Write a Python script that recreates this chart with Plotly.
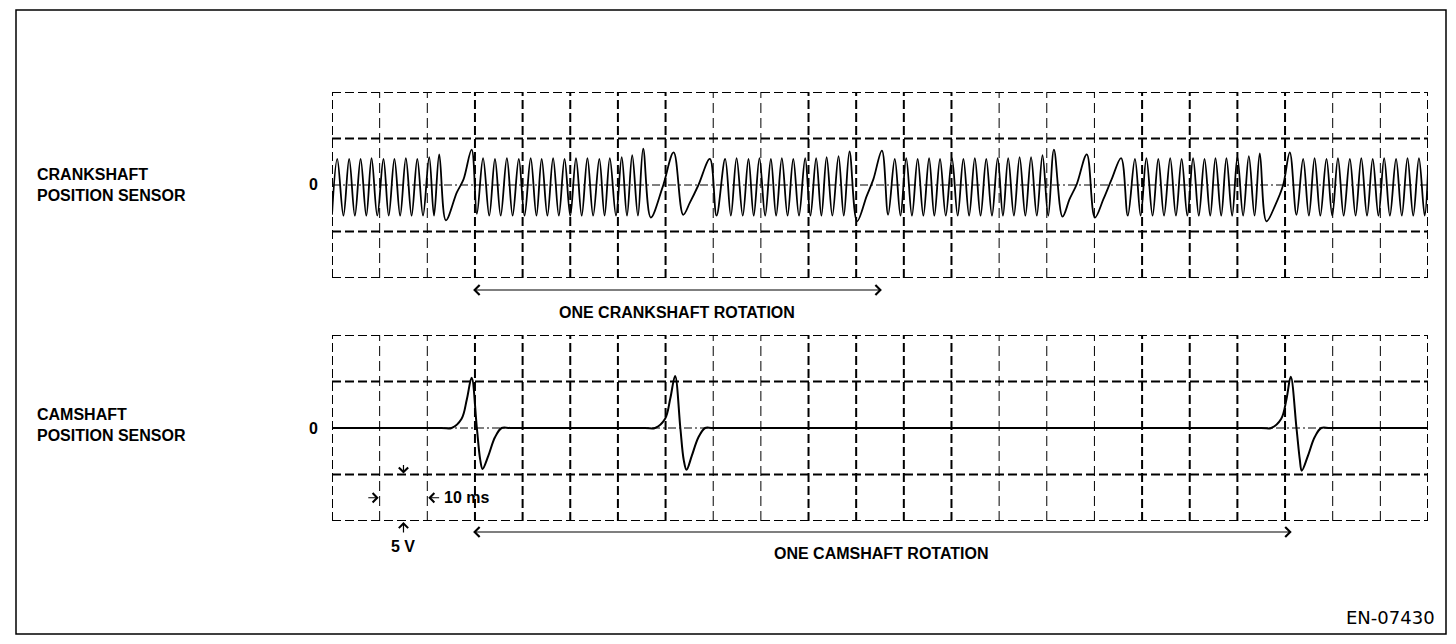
import plotly.graph_objects as go

# Scope traces: time in ms, signal in V
# (one grid division = 10 ms across, 5 V up)
crank_t = [
    0.0, 1.1, 2.4, 3.6, 4.8, 6.0, 7.2, 8.3, 9.5, 10.8, 11.9, 13.1, 14.3, 15.5, 16.7, 17.9, 19.1, 20.4, 21.4, 22.5,
    23.9, 26.2, 27.6, 29.3, 30.4,
    31.7, 33.0, 34.2, 35.4, 36.7, 37.9, 39.2, 40.4, 41.7, 42.9, 44.0, 45.2, 46.4, 47.6, 48.8, 50.0, 51.2, 52.4,
    53.6, 54.8, 56.1, 57.2, 58.3, 59.6, 60.8, 61.9, 63.0, 64.2, 65.3,
    66.9, 69.4, 71.7, 73.7, 75.1, 76.9, 79.3, 80.7,
    82.5, 83.7, 84.9, 86.2, 87.4, 88.5, 89.7, 90.9, 92.1, 93.2, 94.4, 95.6, 96.8, 98.0, 99.3, 100.4, 101.6, 102.7,
    103.8, 105.0, 106.3, 107.4, 108.6,
    110.2, 112.2, 113.6, 115.4, 116.7,
    118.1, 119.3, 120.5, 121.7, 122.9, 124.1, 125.3, 126.4, 127.6, 128.8, 130.1, 131.3, 132.5, 133.7, 134.9, 136.1,
    137.3, 138.5, 139.7, 140.8, 141.9, 143.1, 144.3, 145.5, 146.7, 147.9, 149.1, 150.3, 151.5,
    153.3, 154.8, 156.3, 158.4, 160.1, 161.9, 163.6, 165.6, 167.0,
    168.5, 169.7, 170.9, 172.2, 173.4, 174.6, 175.9, 177.1, 178.3, 179.5, 180.7, 181.9, 183.1, 184.3, 185.4, 186.6,
    187.7, 188.9, 190.0, 191.2, 192.4, 193.6, 194.7,
    196.1, 198.0, 199.6, 201.0, 202.4,
    203.8, 205.0, 206.2, 207.4, 208.7, 209.9, 211.1, 212.3, 213.6, 214.8, 216.0, 217.2, 218.4, 219.6, 220.8, 222.0,
    223.3, 224.5, 225.7, 226.9, 228.1, 229.3, 230.0,
]
crank_v = [
    -3.2, 2.8, -3.3, 2.8, -3.3, 2.8, -3.3, 2.9, -3.3, 2.8, -3.3, 2.8, -3.3, 2.9, -3.3, 2.8, -3.3, 3.0, -3.3, 3.3,
    -3.8, -0.8, 0.6, 3.8, -3.1,
    2.9, -3.3, 2.8, -3.3, 2.9, -3.3, 2.8, -3.3, 2.9, -3.3, 2.8, -3.3, 2.9, -3.3, 2.8, -3.3, 2.9, -3.3,
    2.9, -3.3, 2.8, -3.3, 2.9, -3.3, 3.0, -3.3, 3.2, -3.3, 3.9,
    -3.5, -0.2, 3.5, -3.2, -1.9, 0.0, 2.8, -3.3,
    2.8, -3.3, 2.9, -3.3, 2.8, -3.3, 2.9, -3.3, 2.8, -3.3, 2.9, -3.3, 2.8, -3.3, 2.9, -3.3, 2.9, -3.3,
    3.0, -3.3, 3.1, -3.3, 3.6,
    -3.9, -1.2, 0.6, 3.7, -3.2,
    2.8, -3.3, 2.9, -3.3, 2.8, -3.3, 2.9, -3.3, 2.8, -3.3, 2.9, -3.3, 2.8, -3.3, 2.9, -3.3,
    2.8, -3.3, 2.9, -3.3, 2.9, -3.3, 3.0, -3.3, 3.0, -3.3, 3.2, -3.3, 3.8,
    -3.4, -1.5, 0.1, 3.3, -3.5, -1.5, 0.6, 2.9, -3.3,
    2.8, -3.3, 2.9, -3.3, 2.8, -3.3, 2.9, -3.3, 2.8, -3.3, 2.9, -3.3, 2.8, -3.3, 2.9, -3.3,
    2.9, -3.3, 3.0, -3.3, 3.1, -3.3, 3.4,
    -3.9, -2.1, 0.0, 3.5, -3.2,
    2.8, -3.3, 2.9, -3.3, 2.8, -3.3, 2.9, -3.3, 2.8, -3.3, 2.9, -3.3, 2.8, -3.3, 2.9, -3.3,
    2.8, -3.3, 2.9, -3.3, 2.9, -3.3, 1.5,
]

cam_t = [
    0.0, 23.0, 25.1, 27.2, 28.3, 29.3, 30.4, 31.1, 31.6, 32.8, 34.2, 35.6, 37.5,
    65.7, 67.8, 69.9, 71.0, 72.0, 73.1, 73.8, 74.4, 75.5, 76.9, 78.3, 80.0,
    195.0, 197.1, 199.2, 200.3, 201.2, 202.4, 203.1, 203.5, 204.8, 206.2, 207.6, 209.5, 230.0,
]
cam_v = [
    0.0, 0.0, 0.0, 1.0, 3.1, 5.4, 0.0, -3.4, -4.4, -3.0, -1.0, 0.0, 0.0,
    0.0, 0.0, 1.0, 3.2, 5.6, 0.0, -3.4, -4.5, -3.0, -1.0, 0.0, 0.0,
    0.0, 0.0, 1.0, 3.1, 5.5, 0.0, -3.4, -4.6, -3.0, -1.0, 0.0, 0.0, 0.0,
]

crank_rotation = [29.3, 115.4]   # ms, ends of the "one crankshaft rotation" arrow
cam_rotation = [29.3, 201.4]     # ms, ends of the "one camshaft rotation" arrow

time_div = 10
volt_div = 5
n_cols = 23
n_rows = 2      # each side of zero
heavy_cols = {0, 3, 4, 5, 6, 7, 10, 11, 12, 13, 17, 18, 19, 20, 23}

W, H = 1456, 644


def px(x):
    return x / W


def py(y):
    return 1 - y / H


FONT = "Liberation Sans, Arial, sans-serif"
t_max = n_cols * time_div
v_max = n_rows * volt_div

fig = go.Figure()
fig.add_trace(go.Scatter(x=crank_t, y=crank_v, mode="lines", xaxis="x", yaxis="y",
                         line=dict(color="black", width=1.8, shape="spline", smoothing=1.0),
                         hoverinfo="skip", showlegend=False))
fig.add_trace(go.Scatter(x=cam_t, y=cam_v, mode="lines", xaxis="x2", yaxis="y2",
                         line=dict(color="black", width=2.0, shape="spline", smoothing=1.0),
                         hoverinfo="skip", showlegend=False))

# scope graticules
shapes = []
for xr, yr in (("x", "y"), ("x2", "y2")):
    for i in range(n_cols + 1):
        t = i * time_div
        heavy = i in heavy_cols
        shapes.append(dict(type="line", xref=xr, yref=yr, x0=t, x1=t, y0=-v_max, y1=v_max, layer="below",
                           line=dict(color="black", width=2 if heavy else 1,
                                     dash="9px,4px" if heavy else "10px,5px")))
    for j in range(-n_rows, n_rows + 1):
        v = j * volt_div
        if j == 0:
            ln = dict(color="black", width=1, dash="8px,3px,2px,3px")
        else:
            ln = dict(color="black", width=2, dash="9px,4px")
        shapes.append(dict(type="line", xref=xr, yref=yr, x0=0, x1=t_max, y0=v, y1=v, layer="below", line=ln))

# outer frame
shapes.append(dict(type="rect", xref="paper", yref="paper", x0=px(16), x1=px(1446), y0=py(634), y1=py(10),
                   line=dict(color="black", width=1.5)))

ann = []


def label(text, x, y, xref="paper", yref="paper", size=16, xanchor="center", bold=True, yshift=0, font=FONT):
    ann.append(dict(text=f"<b>{text}</b>" if bold else text, x=x, y=y, xref=xref, yref=yref,
                    showarrow=False, xanchor=xanchor, yanchor="middle", align="left", yshift=yshift,
                    font=dict(family=font, size=size, color="black")))


def arrow(x0, x1, y, xref, yref, dy_px=0, both=False, size=1.0):
    # head at (x1, y); tail at x0 (same axis) and dy_px pixels below the head
    a = dict(text="", x=x1, y=y, ax=x0, ay=dy_px, xref=xref, yref=yref, axref=xref, ayref="pixel",
             showarrow=True, arrowhead=4, arrowsize=size, arrowwidth=1.2, arrowcolor="black",
             standoff=0, startstandoff=0)
    if both:
        a.update(arrowside="end+start", startarrowhead=4, startarrowsize=size)
    ann.append(a)


label("CRANKSHAFT<br>POSITION SENSOR", px(35), 0, yref="y", xanchor="left")
label("CAMSHAFT<br>POSITION SENSOR", px(35), 0, yref="y2", xanchor="left", yshift=3)
label("0", px(320), 0, yref="y", xanchor="right")
label("0", px(320), 0, yref="y2", xanchor="right")

arrow(crank_rotation[0], crank_rotation[1], py(290), "x", "paper", both=True, size=1.6)
label("ONE CRANKSHAFT ROTATION", sum(crank_rotation) / 2, py(312), xref="x")
arrow(cam_rotation[0], cam_rotation[1], py(532), "x2", "paper", both=True, size=1.6)
label("ONE CAMSHAFT ROTATION", sum(cam_rotation) / 2, py(553), xref="x2")

# scale markers: one division = 10 ms, 5 V
arrow(7.3, 9.8, -7.5, "x2", "y2", size=1.5)
arrow(22.8, 20.2, -7.5, "x2", "y2", size=1.5)
label("10 ms", 23.1, -7.5, xref="x2", yref="y2", xanchor="left")
arrow(1.5 * time_div, 1.5 * time_div, -4.9, "x2", "y2", dy_px=-10, size=1.5)
arrow(1.5 * time_div, 1.5 * time_div, py(522), "x2", "paper", dy_px=12, size=1.5)
label("5 V", 1.5 * time_div, py(546), xref="x2")

label("EN-07430", px(1437), py(617), xanchor="right", bold=False, size=18, font="DejaVu Sans, sans-serif")

axis_x = dict(range=[0, t_max], visible=False, fixedrange=True, showgrid=False, zeroline=False)
axis_y = dict(range=[-v_max, v_max], visible=False, fixedrange=True, showgrid=False, zeroline=False)

fig.update_layout(
    width=W, height=H,
    margin=dict(l=0, r=0, t=0, b=0),
    paper_bgcolor="white", plot_bgcolor="rgba(0,0,0,0)",
    xaxis=dict(domain=[px(332), px(1428)], anchor="y", **axis_x),
    yaxis=dict(domain=[py(278), py(92)], anchor="x", **axis_y),
    xaxis2=dict(domain=[px(332), px(1428)], anchor="y2", **axis_x),
    yaxis2=dict(domain=[py(521), py(335)], anchor="x2", **axis_y),
    shapes=shapes,
    annotations=ann,
    showlegend=False,
)

# the page's default body margin would push the figure off by 8 px
fig.write_html("out.html", config={"displayModeBar": False},
               post_script="document.body.style.margin='0';document.body.style.overflow='hidden';")
